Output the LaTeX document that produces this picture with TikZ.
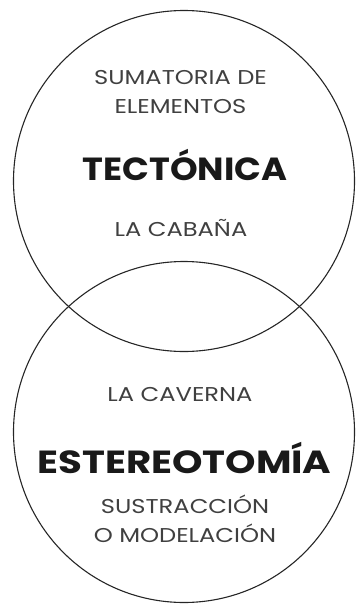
\documentclass[tikz,border=0pt]{standalone}
\usepackage{fontspec}
\setmainfont{Poppins}
\newfontfamily\widefont{Poppins}[FakeStretch=1.21]
\newfontfamily\midfont{Poppins}[FakeStretch=1.1]
\usetikzlibrary{positioning}

\begin{document}
\begin{tikzpicture}[x=1pt,y=-1pt,node distance=29pt,
  ring/.style={circle,draw=black!85,line width=1.1pt,minimum size=341pt,inner sep=0pt},
  small label/.style={anchor=base,inner sep=0pt,text=black!75,font=\widefont\fontsize{20}{24}\selectfont},
  big label/.style={anchor=base,inner sep=0pt,text=black!90,font=\midfont\fontsize{32}{36}\selectfont\bfseries}]

 \useasboundingbox (0,0) rectangle (356,605);

 \node[ring] (tect) at (184,181) {};
 \node[ring] (este) at (184,432) {};

 \node[small label] (sum) at (180.5,84) {SUMATORIA DE};
 \node[small label] (elem) [below of=sum] {ELEMENTOS};
 \node[big label] (tectonica) at (185,180) {TECTÓNICA};
 \node[small label] (cabana) at (181,236) {LA CABAÑA};

 \node[small label] (caverna) at (180,401) {LA CAVERNA};
 \node[big label,font=\widefont\fontsize{32}{36}\selectfont\bfseries] (estereo) at (184.5,473) {ESTEREOTOMÍA};
 \node[small label] (sustr) at (185,513) {SUSTRACCIÓN};
 \node[small label] (model) [below of=sustr] {O MODELACIÓN};

\end{tikzpicture}
\end{document}
